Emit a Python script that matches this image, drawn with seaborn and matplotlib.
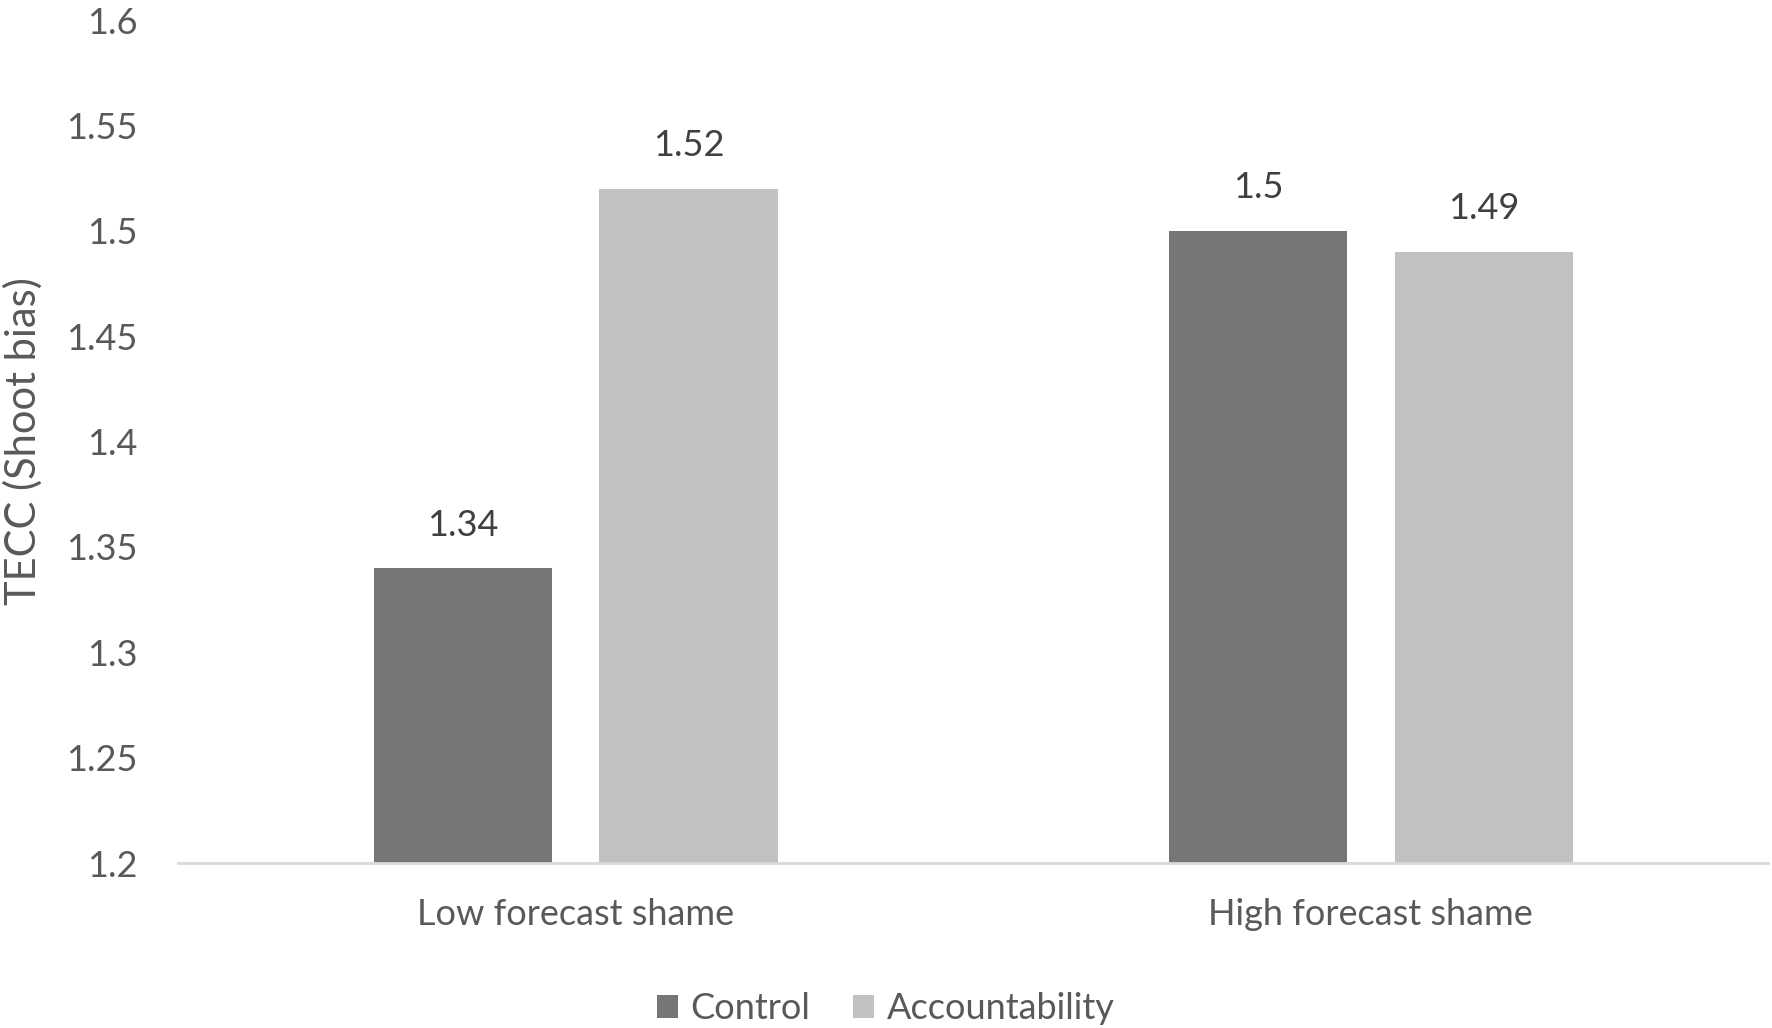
import matplotlib
matplotlib.use("Agg")
import matplotlib.pyplot as plt
import seaborn as sns
import pandas as pd

# values
categories = ["Low forecast shame", "High forecast shame"]
groups = ["Control", "Accountability"]
control = [1.34, 1.50]
accountability = [1.52, 1.49]
y_ticks = [1.2, 1.25, 1.3, 1.35, 1.4, 1.45, 1.5, 1.55, 1.6]

df = pd.DataFrame({
    "shame": categories * 2,
    "condition": [groups[0]] * 2 + [groups[1]] * 2,
    "tecc": control + accountability,
})

sns.set_theme(style="white")
plt.rcParams["font.family"] = ["Lato", "DejaVu Sans"]

TEXT = "#595959"
fig = plt.figure(figsize=(17.72, 10.28), dpi=100)
ax = fig.add_axes([0.1005, 0.1605, 0.8975, 0.82])

sns.barplot(data=df, x="shame", y="tecc", hue="condition", order=categories,
            hue_order=groups, palette=["#767676", "#c1c1c1"], width=0.568,
            gap=0.21, saturation=1, linewidth=0, ax=ax)

ax.set_ylim(1.2, 1.6)
ax.set_xlim(-0.5, 1.5)
ax.set_yticks(y_ticks)
ax.set_yticklabels([f"{v:g}" for v in y_ticks])
ax.tick_params(axis="both", length=0, labelsize=26, labelcolor=TEXT)
ax.tick_params(axis="y", pad=29)
ax.tick_params(axis="x", pad=25)
ax.set_xlabel("")
ax.set_ylabel("TECC (Shoot bias)", fontsize=30, color=TEXT)
ax.yaxis.set_label_coords(-0.085, 0.5)

for s in ["left", "right", "top"]:
    ax.spines[s].set_visible(False)
ax.spines["bottom"].set_color("#d9d9d9")
ax.spines["bottom"].set_linewidth(2)

for cont in ax.containers:
    ax.bar_label(cont, labels=[f"{v:g}" for v in cont.datavalues],
                 padding=19, fontsize=26, color="#404040")

sns.move_legend(ax, "center", bbox_to_anchor=(0.445, -0.173), ncol=2,
                frameon=False, title=None, fontsize=26,
                handlelength=0.58, handleheight=0.58, handletextpad=0.35,
                columnspacing=1.2)
for t in ax.get_legend().get_texts():
    t.set_color(TEXT)

fig.savefig("out.png", dpi=100)
plt.close(fig)
